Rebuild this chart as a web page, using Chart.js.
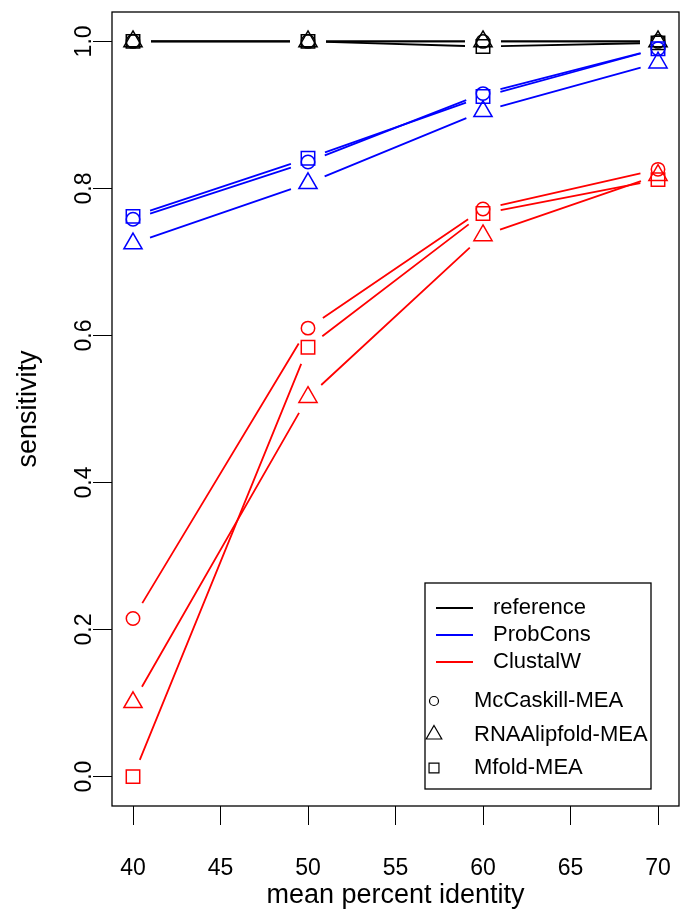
<!DOCTYPE html>
<html>
<head>
<meta charset="utf-8">
<title>sensitivity vs mean percent identity</title>
<script src="https://cdn.jsdelivr.net/npm/chart.js@4.4.1/dist/chart.umd.min.js"></script>
<style>
  html, body { margin: 0; padding: 0; background: #fff; }
  #wrap { width: 680px; height: 912px; }
</style>
</head>
<body>
<div id="wrap"><canvas id="sens-chart" width="680" height="912"></canvas></div>
<script>
// x positions and axis ticks
const identity = [40, 50, 60, 70];
const xTicks = [40, 45, 50, 55, 60, 65, 70];
const yTicks = [0, 0.2, 0.4, 0.6, 0.8, 1.0];

const aligners = ['reference', 'ProbCons', 'ClustalW'];
const alignerColors = ['#000000', '#0000ff', '#ff0000'];
const methods = ['McCaskill-MEA', 'RNAAlipfold-MEA', 'Mfold-MEA'];
const methodShapes = ['circle', 'triangle', 'rect'];
const shapeRadius = { circle: 6.7, triangle: 10.5, rect: 9.5 };

// sensitivity, one row per method (McCaskill, RNAAlipfold, Mfold)
const referenceSens = [
  [1.000, 1.000, 1.000, 1.000],
  [1.000, 1.000, 1.000, 1.000],
  [1.000, 1.000, 0.993, 0.998],
];
const probconsSens = [
  [0.758, 0.836, 0.929, 0.990],
  [0.725, 0.807, 0.905, 0.971],
  [0.762, 0.841, 0.925, 0.990],
];
const clustalwSens = [
  [0.215, 0.610, 0.772, 0.826],
  [0.101, 0.516, 0.736, 0.818],
  [0.000, 0.584, 0.766, 0.812],
];

const FONT = '"Liberation Sans", Arial, Helvetica, sans-serif';

function buildDatasets() {
  const tables = [referenceSens, probconsSens, clustalwSens];
  const sets = [];
  tables.forEach((rows, a) => {
    rows.forEach((vals, m) => {
      const shape = methodShapes[m];
      sets.push({
        label: aligners[a] + ' / ' + methods[m],
        data: identity.map((x, i) => ({ x: x, y: vals[i] })),
        showLine: false,
        borderColor: alignerColors[a],
        pointStyle: shape,
        pointRadius: shapeRadius[shape],
        pointHoverRadius: shapeRadius[shape],
        pointBorderColor: alignerColors[a],
        pointBackgroundColor: 'rgba(0,0,0,0)',
        pointBorderWidth: 1.5,
        order: -sets.length,
      });
    });
  });
  return sets;
}

// lines between points that stop short of each symbol
const gapLines = {
  id: 'gapLines',
  beforeDatasetDraw(chart, args) {
    const ds = chart.data.datasets[args.index];
    const pts = args.meta.data;
    const ctx = chart.ctx;
    const gap = 18;
    ctx.save();
    ctx.strokeStyle = ds.borderColor;
    ctx.lineWidth = 1.8;
    ctx.beginPath();
    for (let i = 1; i < pts.length; i++) {
      const a = pts[i - 1], b = pts[i];
      const dx = b.x - a.x, dy = b.y - a.y;
      const len = Math.hypot(dx, dy);
      if (len <= 2 * gap) continue;
      const ux = dx / len, uy = dy / len;
      ctx.moveTo(a.x + ux * gap, a.y + uy * gap);
      ctx.lineTo(b.x - ux * gap, b.y - uy * gap);
    }
    ctx.stroke();
    ctx.restore();
  }
};

// frame around the plotting region
const plotBox = {
  id: 'plotBox',
  beforeDatasetsDraw(chart) {
    const { ctx, chartArea: c } = chart;
    ctx.save();
    ctx.strokeStyle = '#000';
    ctx.lineWidth = 1.3;
    ctx.strokeRect(c.left, c.top, c.right - c.left, c.bottom - c.top);
    ctx.restore();
  }
};

// legend box in the lower right corner
const cornerLegend = {
  id: 'cornerLegend',
  afterDraw(chart) {
    const { ctx, chartArea } = chart;
    const w = 226, h = 206;
    const left = chartArea.right - 28 - w;
    const top = chartArea.bottom - 17 - h;
    ctx.save();
    ctx.fillStyle = '#fff';
    ctx.fillRect(left, top, w, h);
    ctx.strokeStyle = '#000';
    ctx.lineWidth = 1.3;
    ctx.strokeRect(left, top, w, h);
    ctx.font = '22px ' + FONT;
    ctx.textBaseline = 'middle';
    ctx.textAlign = 'left';

    aligners.forEach((name, i) => {
      const y = top + 25 + i * 27;
      ctx.strokeStyle = alignerColors[i];
      ctx.lineWidth = 2;
      ctx.beginPath();
      ctx.moveTo(left + 11, y);
      ctx.lineTo(left + 48, y);
      ctx.stroke();
      ctx.fillStyle = '#000';
      ctx.fillText(name, left + 68, y);
    });

    const legendRadius = { circle: 4.5, triangle: 9, rect: 7 };
    methods.forEach((name, i) => {
      const y = top + 118 + i * 33.5;
      const shape = methodShapes[i];
      ctx.strokeStyle = '#000';
      ctx.fillStyle = 'rgba(0,0,0,0)';
      ctx.lineWidth = 1.2;
      Chart.helpers.drawPoint(ctx, {
        pointStyle: shape, radius: legendRadius[shape], rotation: 0, borderWidth: 1.2
      }, left + 9, y);
      ctx.fillStyle = '#000';
      ctx.fillText(name, left + 49, y);
    });
    ctx.restore();
  }
};

function initChart() {
  const ctx = document.getElementById('sens-chart').getContext('2d');
  const axisGrid = {
    drawOnChartArea: false,
    drawTicks: true,
    tickLength: 19,
    color: '#000',
    lineWidth: 1,
  };

  new Chart(ctx, {
    type: 'line',
    data: { datasets: buildDatasets() },
    options: {
      responsive: false,
      animation: false,
      events: [],
      layout: {
        autoPadding: false,
        padding: { top: 12, right: 1, left: 0, bottom: 0 },
      },
      plugins: {
        legend: { display: false },
        tooltip: { enabled: false },
      },
      scales: {
        x: {
          type: 'linear',
          min: 38.8,
          max: 71.2,
          afterBuildTicks: s => { s.ticks = xTicks.map(v => ({ value: v })); },
          afterFit: s => {
            s.height = 106;
            s.paddingLeft = 0;
            s.paddingRight = 0;
          },
          grid: axisGrid,
          border: { display: false },
          ticks: {
            color: '#000',
            font: { size: 23, family: FONT },
            padding: 30,
            maxRotation: 0,
            autoSkip: false,
            callback: v => String(v),
          },
          title: {
            display: true,
            text: 'mean percent identity',
            color: '#000',
            font: { size: 27, family: FONT, lineHeight: 1.2 },
            padding: { top: 0, bottom: 0 },
          },
        },
        y: {
          type: 'linear',
          min: -0.04,
          max: 1.04,
          afterBuildTicks: s => { s.ticks = yTicks.map(v => ({ value: v })); },
          afterFit: s => {
            s.width = 112;
            s.paddingTop = 0;
            s.paddingBottom = 0;
          },
          grid: axisGrid,
          border: { display: false },
          ticks: {
            color: '#000',
            font: { size: 23, family: FONT },
            minRotation: 90,
            maxRotation: 90,
            crossAlign: 'center',
            padding: -8,
            autoSkip: false,
            callback: v => v.toFixed(1),
          },
          title: {
            display: true,
            text: 'sensitivity',
            color: '#000',
            font: { size: 27, family: FONT, lineHeight: 1.2 },
            padding: { top: 12, bottom: 0 },
          },
        },
      },
    },
    plugins: [plotBox, gapLines, cornerLegend],
  });
}

window.addEventListener('load', initChart);
</script>
</body>
</html>
